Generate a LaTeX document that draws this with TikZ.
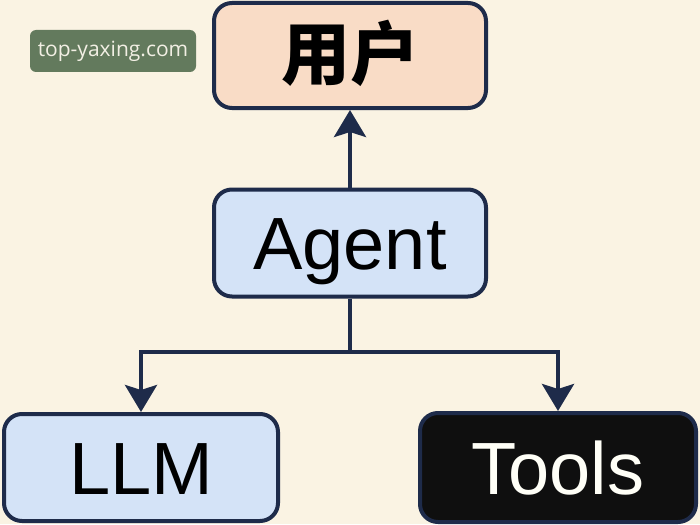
\documentclass[tikz,border=0pt]{standalone}
\usepackage{fontspec}
\setmainfont{Liberation Sans}
\newfontfamily\cjk{Noto Sans CJK SC}
\newfontfamily\wmfont{Open Sans}
\usetikzlibrary{arrows.meta}
\definecolor{bgc}{HTML}{FAF3E3}
\definecolor{navy}{HTML}{1E2B4A}
\definecolor{peach}{HTML}{F9DCC6}
\definecolor{lblue}{HTML}{D4E3F7}
\definecolor{wmgreen}{HTML}{637A5D}
\definecolor{wmtext}{HTML}{F2EFE4}
\begin{document}
\begin{tikzpicture}[x=1pt,y=-1pt,
  box/.style={draw=navy, line width=4pt, rounded corners=18pt,
    minimum width=272pt, minimum height=107pt, inner sep=0pt,
    text height=53pt, text depth=0pt, align=center},
  conn/.style={draw=navy, line width=4pt},
  arr/.style={conn, -{Stealth[length=27pt,width=32pt,inset=5pt]}},
  big/.style={font=\fontsize{74}{80}\selectfont}]
\fill[bgc] (0,0) rectangle (700,524);
\useasboundingbox (0,0) rectangle (700,524);
% watermark
\node[fill=wmgreen, rounded corners=6pt, minimum width=166pt, minimum height=42pt,
  inner sep=0pt, text=wmtext, font=\wmfont\fontsize{21}{24}\selectfont]
  (wm) at (113,51) {top-yaxing.com};
% boxes
\node[box, fill=peach, minimum height=105pt, text height=49pt, text depth=0pt,
  font=\cjk\bfseries\fontsize{69}{72}\selectfont] (user) at (350,55.5) {用户};
\node[box, fill=lblue, big] (agent) at (350,243) {Agent};
\node[box, fill=lblue, big, minimum width=274pt] (llm) at (141,467.5) {LLM};
\node[box, fill=black!94, text=white!97!yellow, big, minimum width=276pt,
  minimum height=109pt] (tools) at (558,467.5) {Tools};
% connectors
\coordinate (split) at (350,352);
\draw[arr] (agent.north) -- (user.south);
\draw[conn] (agent.south) -- (split);
\draw[arr] (split) -| (llm.north);
\draw[arr] (split) -| (tools.north);
\end{tikzpicture}
\end{document}
